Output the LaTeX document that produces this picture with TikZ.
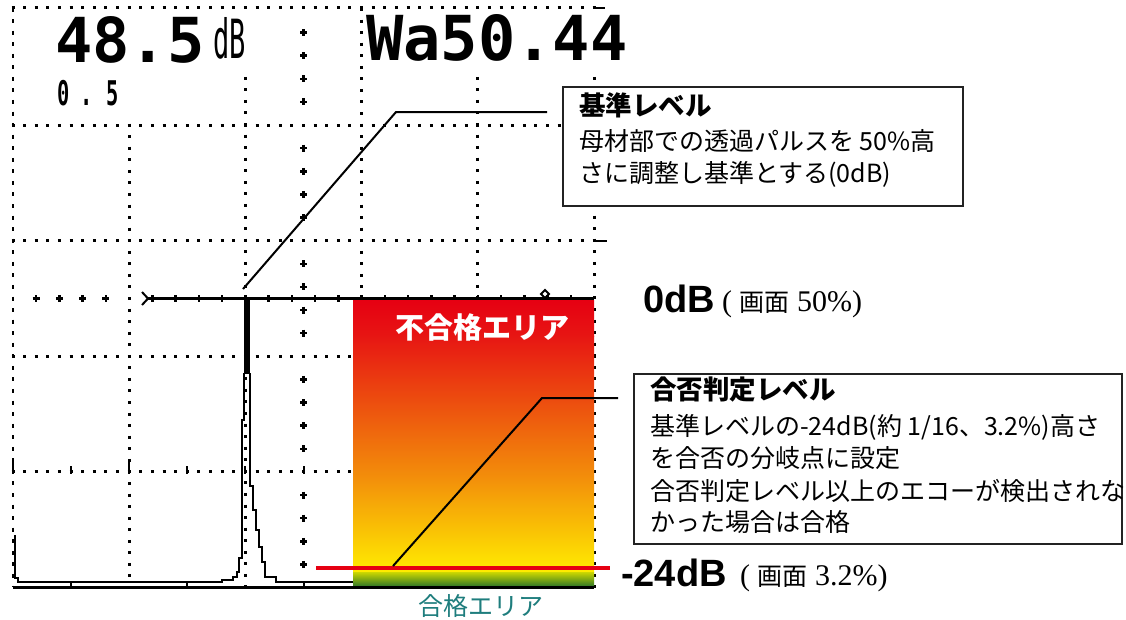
\documentclass[tikz,border=0pt]{standalone}
\usepackage{fontspec}
\usepackage{graphicx}
\setmainfont{Liberation Serif}
\newfontfamily\jp{Noto Sans CJK JP}
\newfontfamily\mono{DejaVu Sans Mono}
\newfontfamily\arial{Liberation Sans}
\definecolor{ngred}{RGB}{230,0,18}
\definecolor{ngrA}{RGB}{231,22,19}
\definecolor{ngor}{RGB}{243,145,10}
\definecolor{ngyel}{RGB}{255,236,0}
\definecolor{okgA}{RGB}{205,215,0}
\definecolor{okgB}{RGB}{40,115,40}
\definecolor{tealtxt}{RGB}{30,125,125}
\definecolor{boxline}{RGB}{35,35,35}
\tikzset{
  hdot/.style={line width=3pt, dash pattern=on 3pt off 8.62pt},
  vdot/.style={line width=3pt, dash pattern=on 3pt off 8.56pt},
  thindash/.style={line width=1.2pt, dash pattern=on 4pt off 7.56pt},
  plusmark/.style={line width=2.5pt},
  trace/.style={line width=2.8pt, line join=miter},
  callout/.style={line width=2pt, black},
  infobox/.style={draw=boxline, line width=1.8pt, fill=white, inner sep=0pt, anchor=north west},
  boxtitle/.style={anchor=base west, inner sep=0pt, font=\jp\bfseries\fontsize{26.5}{26.5}\selectfont},
  boxtext/.style={anchor=base west, inner sep=0pt, font=\jp\fontsize{25}{25}\selectfont},
  bigpix/.style={anchor=base west, inner sep=0pt, font=\mono\bfseries\fontsize{62}{62}\selectfont},
  smallpix/.style={anchor=base, inner sep=0pt, font=\mono\bfseries\fontsize{34}{34}\selectfont},
  dblabel/.style={anchor=base west, inner sep=0pt, font=\arial\bfseries\fontsize{38}{38}\selectfont},
  paren/.style={anchor=base west, inner sep=0pt, font=\rmfamily\fontsize{30}{30}\selectfont}
}
\begin{document}
\begin{tikzpicture}[x=1pt,y=-1pt]
\useasboundingbox (0,0) rectangle (1126,619);
\fill[white] (0,0) rectangle (1126,619);

% ---------- grid ----------
\foreach \y in {7,125.1,240.7,356.3,471.9}
  \draw[hdot] (11.5,\y) -- (596,\y);
\draw[thindash] (13,7.5) -- (13,587);
\foreach \x/\ys in {129.2/125.1, 245.4/78.3, 361.6/9.5, 477.8/78.3, 594/78.3}
  \draw[vdot] (\x,\ys-1.5) -- (\x,589);
% centre column pluses
\foreach \k in {1,2,3,4,6,7,8,9,11,12,13,14,16,17,18,19,21,22,23,24}{
  \pgfmathsetmacro{\yy}{9.5+\k*23.12}
  \draw[plusmark] (300,\yy) -- (307,\yy) (303.5,\yy-3.5) -- (303.5,\yy+3.5);
}
% centre line pluses (left)
\foreach \k in {1,2,3,4}{
  \pgfmathsetmacro{\xx}{13+\k*23.24}
  \draw[plusmark] (\xx-3.5,298.5) -- (\xx+3.5,298.5) (\xx,295) -- (\xx,302);
}
\fill (127.7,297) rectangle (130.7,300);
% minor ticks on the 4th line
\foreach \x/\t in {13/460, 71.1/466, 129.2/460, 187.3/466, 245.4/466, 303.5/466}
  \draw[line width=2pt] (\x,\t) -- (\x,474);
% right edge dashes
\draw[line width=2.5pt] (594,241) -- (607,241);
\draw[line width=2.5pt] (594,8) -- (605,8);

% ---------- echo trace ----------
\draw[trace] (15,535) -- (15,578) -- (18,578) -- (18,582) -- (222,582) -- (222,580) -- (233,580)
  -- (233,577) -- (237,577) -- (237,572) -- (239,572) -- (239,558) -- (242,558) -- (242,420)
  -- (244,420) -- (244,373);
\fill (243.5,297) rectangle (249.5,374);
\draw[trace] (250,373) -- (250,486) -- (253,486) -- (253,510) -- (256,510) -- (256,530)
  -- (259,530) -- (259,547) -- (262,547) -- (262,562) -- (265,562) -- (265,577) -- (276,577)
  -- (276,582) -- (594,582);

% ---------- gate line (0dB) ----------
\draw[line width=3pt] (148,298.5) -- (594,298.5);
\foreach \k in {6,...,24}{
  \pgfmathsetmacro{\xx}{13+\k*23.24}
  \draw[line width=2.5pt] (\xx,295) -- (\xx,302);
}
\draw[line width=2pt] (142,292) -- (148,298.5) -- (142,305);
\draw[line width=1.8pt] (545,290) -- (549,294) -- (545,298) -- (541,294) -- cycle;

% ---------- areas ----------
\shade[top color=ngred, bottom color=ngrA] (353,300) rectangle (594,336.5);
\shade[top color=ngrA, bottom color=ngor] (353,336) rectangle (594,480.5);
\shade[top color=ngor, bottom color=ngyel] (353,480) rectangle (594,572.5);
\shade[top color=okgA, bottom color=okgB] (353,572) rectangle (594,587);
\node[text=white, inner sep=0pt, font=\jp\bfseries\fontsize{29}{29}\selectfont] (ng) at (482,327) {不合格エリア};
\node[text=tealtxt, inner sep=0pt, font=\jp\fontsize{25}{25}\selectfont] (ok) at (481,606) {合格エリア};

% bottom axis
\draw[line width=3pt] (13,587.5) -- (594,587.5);
\foreach \x in {71.1,187.3,303.5}
  \draw[line width=2pt] (\x,583) -- (\x,587);

% ---------- screen readouts ----------
\node[bigpix] (gain) at (55,62) {48.5};
\node[anchor=base west, inner sep=0pt, font=\mono\fontsize{54}{54}\selectfont] (gainunit) at (213,58) {\scalebox{0.5}[1]{dB}};
\node[bigpix] (wa) at (366,60) {Wa50.44};
\node[smallpix] (s0) at (64,105) {\scalebox{0.6}[1]{0}};
\node[smallpix] (s1) at (87,105) {\scalebox{0.6}[1]{.}};
\node[smallpix] (s2) at (113,105) {\scalebox{0.6}[1]{5}};

% ---------- reject level ----------
\coordinate (rl0) at (316,568);
\coordinate (rl1) at (610,568);
\draw[ngred, line width=3.5pt] (rl0) -- (rl1);

% ---------- labels ----------
\node[dblabel] (zerodb) at (643,312) {0dB};
\node[paren] (zerodbp) at (722,311) {( {\jp\fontsize{25}{25}\selectfont 画面} 50\%)};
\node[dblabel] (m24db) at (621,586) {-24dB};
\node[paren] (m24dbp) at (740,585) {( {\jp\fontsize{25}{25}\selectfont 画面} 3.2\%)};

% ---------- callout 1 ----------
\node[infobox, minimum width=400pt, minimum height=119pt] (box1) at (562,86) {};
\node[boxtitle] (b1t) at (579,115) {基準レベル};
\node[boxtext] (b1a) at (579,150) {母材部での透過パルスを 50\%高};
\node[boxtext] (b1b) at (579,182) {さに調整し基準とする(0dB)};
\coordinate (c1a) at (243,289);
\coordinate (c1b) at (396,112);
\coordinate (c1c) at (547,112);
\draw[callout] (c1a) -- (c1b) -- (c1c);

% ---------- callout 2 ----------
\node[infobox, minimum width=488pt, minimum height=170pt] (box2) at (633,373) {};
\node[boxtitle] (b2t) at (650,399) {合否判定レベル};
\node[boxtext] (b2a) at (650,435) {基準レベルの-24dB(約 1/16、3.2\%)高さ};
\node[boxtext] (b2b) at (650,467) {を合否の分岐点に設定};
\node[boxtext] (b2c) at (650,500) {合否判定レベル以上のエコーが検出されな};
\node[boxtext] (b2d) at (650,531) {かった場合は合格};
\coordinate (c2a) at (393,566);
\coordinate (c2b) at (542,398);
\coordinate (c2c) at (618,398);
\draw[callout] (c2a) -- (c2b) -- (c2c);
\end{tikzpicture}
\end{document}
